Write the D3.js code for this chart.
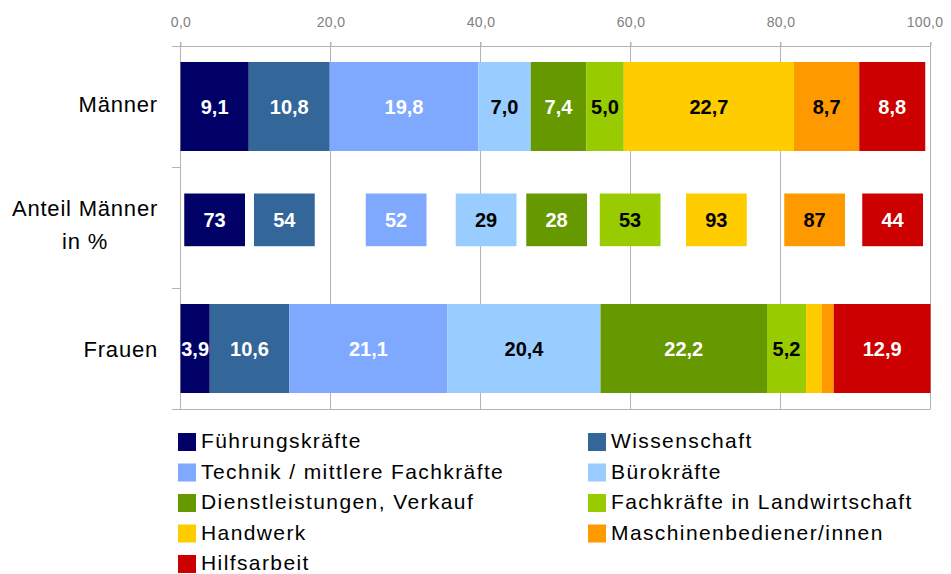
<!DOCTYPE html>
<html lang="de">
<head>
<meta charset="UTF-8">
<title>Berufsgruppen Männer / Frauen</title>
<script src="https://d3js.org/d3.v7.min.js"></script>
<style>
  body { margin: 0; background: #fff; }
  svg { font-family: "Liberation Sans", Arial, sans-serif; }
  .tick text { fill: #808080; font-size: 14px; letter-spacing: 0.3px; }
  .tick line, .domain { stroke: #b3b3b3; }
</style>
</head>
<body>
<div id="chart"></div>
<script>
const groups = ["Führungskräfte", "Wissenschaft", "Technik / mittlere Fachkräfte", "Bürokräfte",
  "Dienstleistungen, Verkauf", "Fachkräfte in Landwirtschaft", "Handwerk",
  "Maschinenbediener/innen", "Hilfsarbeit"];
const colors = ["#000066", "#336699", "#7fa8ff", "#99ccff", "#669900", "#99cc00", "#ffcc00", "#ff9900", "#cc0000"];
const darkText = [false, false, false, true, false, true, true, true, false];

const maenner = [9.1, 10.8, 19.8, 7.0, 7.4, 5.0, 22.7, 8.7, 8.8];
const frauen = [3.9, 10.6, 21.1, 20.4, 22.2, 5.2, 2.1, 1.6, 12.9];
const frauenLabel = [true, true, true, true, true, true, false, false, true];

// Anteil Männer in %: value and position of the box on the axis
const anteil = [73, 54, 52, 29, 28, 53, 93, 87, 44];
const anteilStart = [0.5, 9.8, 24.7, 36.7, 46.1, 55.9, 67.4, 80.5, 90.9];
const anteilWidth = 8.1;

const rows = ["Männer", "Anteil", "Frauen"];
const ticks = [0, 20, 40, 60, 80, 100];

const width = 951, height = 574;
const svg = d3.select("#chart").append("svg")
  .attr("width", width).attr("height", height);

const x = d3.scaleLinear().domain([0, 100]).range([180.5, 930.5]);
const y = d3.scaleBand().domain(rows).range([46, 409]);
const fmt = d => d.toFixed(1).replace(".", ",");

// grid
svg.append("g").selectAll("line").data(ticks).join("line")
  .attr("x1", d => x(d)).attr("x2", d => x(d))
  .attr("y1", 42).attr("y2", 409)
  .attr("stroke", "#b3b3b3");

// top axis
const ax = svg.append("g").attr("transform", "translate(0,46)")
  .call(d3.axisTop(x).tickValues(ticks).tickFormat(fmt).tickSize(4).tickSizeOuter(0));
ax.select(".domain").attr("d", `M172,0.5H${x(100)}`);
ax.selectAll(".tick text").attr("y", -19)
  .attr("dx", d => d === 100 ? -6 : 0);

// left frame + bottom
svg.append("line").attr("x1", x(0)).attr("x2", x(0)).attr("y1", 42).attr("y2", 409).attr("stroke", "#b3b3b3");
svg.append("line").attr("x1", 172).attr("x2", x(100)).attr("y1", 409.5).attr("y2", 409.5).attr("stroke", "#b3b3b3");
svg.append("g").selectAll("line").data([46, y("Anteil"), y("Frauen"), 409]).join("line")
  .attr("x1", 172).attr("x2", x(0)).attr("y1", d => Math.round(d) + 0.5).attr("y2", d => Math.round(d) + 0.5)
  .attr("stroke", "#b3b3b3");

// stacked bars
function stacked(row, values, showLabel) {
  let acc = 0;
  const segs = values.map((v, i) => { const s = { v, i, x0: acc, x1: acc + v }; acc += v; return s; });
  const top = y(row) + 16, h = 89;
  const g = svg.append("g");
  g.selectAll("rect").data(segs).join("rect")
    .attr("x", d => x(d.x0)).attr("width", d => x(d.x1) - x(d.x0))
    .attr("y", top).attr("height", h)
    .attr("fill", d => colors[d.i]);
  g.selectAll("text").data(segs.filter(d => showLabel[d.i])).join("text")
    .attr("x", d => (x(d.x0) + x(d.x1)) / 2)
    .attr("y", top + h / 2 + 7)
    .attr("text-anchor", "middle")
    .attr("font-size", 20).attr("font-weight", "bold")
    .attr("fill", d => darkText[d.i] ? "#000" : "#fff")
    .text(d => fmt(d.v));
}
stacked("Männer", maenner, maenner.map(() => true));
stacked("Frauen", frauen, frauenLabel);

// Anteil boxes
const ag = svg.append("g");
const aTop = y("Anteil") + 26.5, aH = 52.7;
ag.selectAll("rect").data(anteil).join("rect")
  .attr("x", (d, i) => x(anteilStart[i]))
  .attr("width", (d, i) => x(anteilStart[i] + anteilWidth) - x(anteilStart[i]))
  .attr("y", aTop).attr("height", aH)
  .attr("fill", (d, i) => colors[i]);
ag.selectAll("text").data(anteil).join("text")
  .attr("x", (d, i) => x(anteilStart[i] + anteilWidth / 2))
  .attr("y", aTop + aH / 2 + 7)
  .attr("text-anchor", "middle")
  .attr("font-size", 20).attr("font-weight", "bold")
  .attr("fill", (d, i) => darkText[i] ? "#000" : "#fff")
  .text(d => d);

// row labels
const lab = svg.append("g").attr("font-size", 22).attr("letter-spacing", 0.8).attr("fill", "#000");
lab.append("text").attr("x", 158).attr("y", y("Männer") + y.bandwidth() / 2 + 5).attr("text-anchor", "end").text("Männer");
lab.append("text").attr("x", 158).attr("y", y("Frauen") + y.bandwidth() / 2 + 8).attr("text-anchor", "end").text("Frauen");
const at = lab.append("text").attr("text-anchor", "middle");
at.append("tspan").attr("x", 85).attr("y", y("Anteil") + 49).text("Anteil Männer");
at.append("tspan").attr("x", 85).attr("y", y("Anteil") + 82).text("in %");

// legend
const lg = svg.append("g").selectAll("g").data(groups).join("g")
  .attr("transform", (d, i) => `translate(${i % 2 ? 588 : 178},${433 + Math.floor(i / 2) * 30.5})`);
lg.append("rect").attr("width", 18).attr("height", 18).attr("fill", (d, i) => colors[i]);
lg.append("text").attr("x", 23).attr("y", 15)
  .attr("font-size", 21).attr("letter-spacing", 1.4).text(d => d);
</script>
</body>
</html>
